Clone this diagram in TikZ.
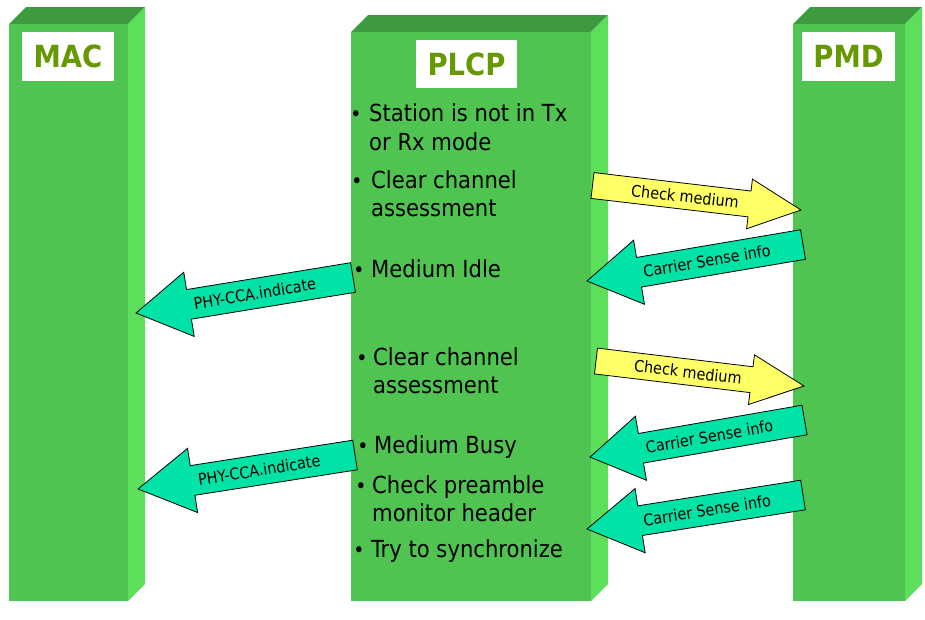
\documentclass[tikz,border=0pt]{standalone}
\usepackage{fontspec}
\setmainfont{DejaVu Sans Condensed}
\usetikzlibrary{calc}

\definecolor{barfront}{RGB}{80,196,80}
\definecolor{bartop}{RGB}{62,154,62}
\definecolor{barside}{RGB}{92,224,92}
\definecolor{labelgreen}{RGB}{102,153,0}
\definecolor{probefill}{RGB}{255,255,102}
\definecolor{replyfill}{RGB}{0,227,166}

\tikzset{
  barface/.style={fill=barfront, draw=none, inner sep=0pt, outer sep=0pt},
  labelbox/.style={fill=white, draw=none, inner sep=0pt, text=labelgreen,
    font=\fontsize{30.5}{35}\selectfont\bfseries},
  itemtext/.style={anchor=base west, inner sep=0pt, font=\fontsize{23.5}{28}\selectfont},
  itembullet/.style={anchor=base, inner sep=0pt, font=\fontsize{21}{28}\selectfont},
  arrowbody/.style={draw=black, line width=0.8pt, line join=miter},
  arrowlabel/.style={inner sep=0pt, font=\fontsize{16}{19}\selectfont},
}

% a 3-D layer column: name, left x, right x, top y of the front face
\newcommand\layerbar[4]{%
  \fill[bartop] (#2,#4) -- (#2+17,#4-17) -- (#3+17,#4-17) -- (#3,#4) -- cycle;
  \fill[barside] (#3,#4) -- (#3+17,#4-17) -- (#3+17,584) -- (#3,601) -- cycle;
  \node[barface, minimum width=#3-#2, minimum height=601-#4, anchor=north west] (#1) at (#2,#4) {};
}

% request arrow pointing right: name, tail, angle, tip, head base, label position, label
\newcommand\probearrow[7]{%
  \begin{scope}[shift={#2}, rotate=#3]
    \draw[arrowbody, fill=probefill] (0,-13) -- (#5,-13) -- (#5,-25) -- (#4,0)
      -- (#5,25) -- (#5,13) -- (0,13) -- cycle;
    \node[arrowlabel, rotate=#3] (#1) at (#6,0) {#7};
  \end{scope}}

% response arrow pointing left: name, tail, angle, tip, head base, label position, label
\newcommand\replyarrow[7]{%
  \begin{scope}[shift={#2}, rotate=#3]
    \draw[arrowbody, fill=replyfill] (0,-15) -- (-#5,-15) -- (-#5,-32.5) -- (-#4,0)
      -- (-#5,32.5) -- (-#5,15) -- (0,15) -- cycle;
    \node[arrowlabel, rotate=#3] (#1) at (-#6,0) {#7};
  \end{scope}}

\begin{document}
\begin{tikzpicture}[x=1pt, y=-1pt]
  \useasboundingbox[fill=white] (0,0) rectangle (925,619);

  % layer columns
  \layerbar{mac}{9}{128}{24}
  \layerbar{plcp}{351}{591}{32}
  \layerbar{pmd}{793}{905}{24}

  % column titles
  \node[labelbox, minimum width=92, minimum height=49] (mactitle) at (68,56.5) {MAC};
  \node[labelbox, minimum width=101, minimum height=48] (plcptitle) at (466.5,64) {PLCP};
  \node[labelbox, minimum width=93, minimum height=49] (pmdtitle) at (848.5,56.5) {PMD};

  % PLCP procedure steps
  \node[itembullet] (b1) at (356,121.5) {•};
  \node[itemtext] (t1a) at (369,121.5) {Station is not in Tx};
  \node[itemtext] (t1b) at (369,150) {or Rx mode};
  \node[itembullet] (b2) at (357,188) {•};
  \node[itemtext] (t2a) at (371,188) {Clear channel};
  \node[itemtext] (t2b) at (371,216.5) {assessment};
  \node[itembullet] (b3) at (359,277) {•};
  \node[itemtext] (t3) at (371,277) {Medium Idle};
  \node[itembullet] (b4) at (362,365) {•};
  \node[itemtext] (t4a) at (373,365) {Clear channel};
  \node[itemtext] (t4b) at (373,393.5) {assessment};
  \node[itembullet] (b5) at (363,453) {•};
  \node[itemtext] (t5) at (374,453) {Medium Busy};
  \node[itembullet] (b6) at (361,493) {•};
  \node[itemtext] (t6a) at (372,493) {Check preamble};
  \node[itemtext] (t6b) at (372,521.5) {monitor header};
  \node[itembullet] (b7) at (359,557) {•};
  \node[itemtext] (t7) at (371,557) {Try to synchronize};

  % exchanges between the layers
  \probearrow{check1}{(592.5,185.5)}{-6.7}{209.9}{158.1}{93.2}{Check medium}
  \replyarrow{sense1}{(803,244.5)}{9.6}{219.1}{166.3}{97.5}{Carrier Sense info}
  \replyarrow{cca1}{(353,277.5)}{9.3}{219.9}{166.2}{99.5}{PHY-CCA.indicate}
  \probearrow{check2}{(596,361)}{-6.85}{209.5}{156.6}{92.7}{Check medium}
  \replyarrow{sense2}{(804.5,420)}{9.8}{217.7}{166}{96.5}{Carrier Sense info}
  \replyarrow{cca2}{(355,455)}{8.9}{219.6}{164.4}{97}{PHY-CCA.indicate}
  \replyarrow{sense3}{(803,495)}{8.95}{218.7}{164.9}{97.2}{Carrier Sense info}
\end{tikzpicture}
\end{document}
